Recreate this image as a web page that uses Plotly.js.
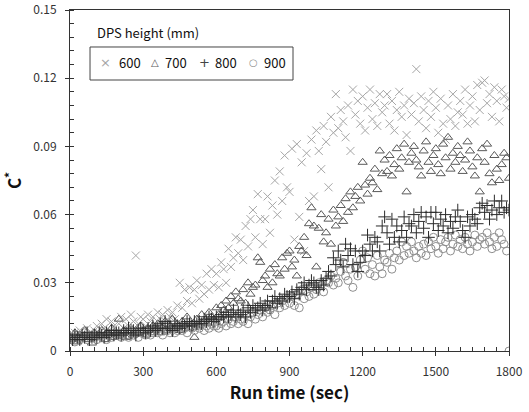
<!DOCTYPE html>
<html>
<head>
<meta charset="utf-8">
<script src="https://cdn.plot.ly/plotly-3.0.1.min.js"></script>
<style>html,body{margin:0;padding:0;background:#fff;}#chart{width:529px;height:412px;}</style>
</head>
<body>
<div id="chart"></div>
<script>
// Run time (sec)
var time = [
0,10,20,30,40,50,60,70,80,90,
100,110,120,130,140,150,160,170,180,190,
200,210,220,230,240,250,260,270,280,290,
300,310,320,330,340,350,360,370,380,390,
400,410,420,430,440,450,460,470,480,490,
500,510,520,530,540,550,560,570,580,590,
600,610,620,630,640,650,660,670,680,690,
700,710,720,730,740,750,760,770,780,790,
800,810,820,830,840,850,860,870,880,890,
900,910,920,930,940,950,960,970,980,990,
1000,1010,1020,1030,1040,1050,1060,1070,1080,1090,
1100,1110,1120,1130,1140,1150,1160,1170,1180,1190,
1200,1210,1220,1230,1240,1250,1260,1270,1280,1290,
1300,1310,1320,1330,1340,1350,1360,1370,1380,1390,
1400,1410,1420,1430,1440,1450,1460,1470,1480,1490,
1500,1510,1520,1530,1540,1550,1560,1570,1580,1590,
1600,1610,1620,1630,1640,1650,1660,1670,1680,1690,
1700,1710,1720,1730,1740,1750,1760,1770,1780,1790,
1800];

// C* for DPS height 600 mm
var c600 = [
.007,.006,.008,.005,.009,.007,.006,.010,.008,.007,
.009,.011,.008,.012,.010,.014,.009,.013,.011,.008,
.012,.015,.010,.014,.011,.016,.013,.042,.012,.015,
.014,.011,.016,.013,.015,.012,.017,.014,.016,.013,
.018,.015,.017,.014,.020,.030,.019,.027,.022,.028,
.021,.027,.031,.023,.029,.025,.034,.027,.036,.029,
.034,.028,.039,.036,.030,.045,.037,.041,.050,.043,
.049,.040,.055,.046,.058,.062,.050,.069,.058,.047,
.058,.068,.052,.064,.075,.060,.079,.066,.086,.072,
.070,.089,.049,.091,.059,.083,.044,.087,.066,.093,
.068,.097,.088,.080,.099,.092,.072,.103,.096,.113,
.098,.106,.101,.094,.108,.088,.115,.104,.110,.100,
.112,.097,.107,.115,.102,.109,.099,.113,.105,.108,
.113,.100,.110,.097,.106,.114,.103,.108,.095,.111,
.104,.109,.124,.101,.112,.106,.098,.110,.103,.114,
.107,.096,.111,.100,.093,.108,.102,.113,.099,.105,
.110,.104,.115,.100,.108,.112,.101,.117,.106,.118,
.119,.109,.113,.103,.116,.110,.101,.115,.112,.107,
.111];

// C* for DPS height 700 mm
var c700 = [
.006,.005,.008,.004,.007,.006,.009,.005,.007,.0035,
.008,.006,.007,.009,.005,.008,.007,.010,.006,.008,
.014,.007,.009,.006,.008,.010,.007,.009,.008,.011,
.009,.007,.010,.008,.011,.009,.012,.008,.010,.013,
.009,.011,.014,.010,.012,.009,.013,.011,.015,.010,
.012,.006,.014,.011,.016,.013,.012,.017,.015,.014,
.019,.016,.020,.018,.022,.019,.024,.021,.026,.023,
.022,.027,.021,.030,.025,.028,.029,.041,.039,.031,
.033,.028,.036,.030,.038,.034,.033,.041,.036,.043,
.044,.037,.040,.033,.046,.044,.050,.042,.056,.063,
.055,.037,.054,.060,.048,.052,.058,.047,.062,.055,
.059,.064,.057,.067,.061,.070,.063,.068,.072,.066,
.083,.073,.069,.076,.074,.080,.071,.088,.078,.084,
.079,.086,.077,.082,.089,.080,.085,.091,.070,.083,
.087,.090,.084,.081,.077,.088,.092,.083,.079,.086,
.089,.082,.078,.091,.085,.094,.080,.087,.083,.090,
.086,.079,.084,.092,.088,.081,.077,.085,.070,.089,
.083,.091,.078,.074,.086,.080,.075,.082,.087,.085,
.076];

// C* for DPS height 800 mm
var c800 = [
.006,.005,.007,.006,.005,.007,.006,.008,.005,.006,
.007,.006,.008,.007,.006,.008,.007,.009,.007,.008,
.008,.007,.009,.008,.010,.008,.009,.007,.009,.010,
.009,.008,.010,.009,.011,.009,.010,.012,.010,.013,
.010,.011,.009,.012,.011,.010,.012,.011,.013,.012,
.011,.013,.012,.013,.012,.014,.013,.015,.014,.013,
.015,.014,.016,.015,.017,.015,.016,.018,.015,.017,
.016,.018,.015,.019,.017,.020,.018,.019,.021,.018,
.020,.022,.019,.022,.024,.021,.023,.022,.025,.024,
.024,.026,.023,.027,.025,.028,.030,.027,.029,.031,
.030,.028,.027,.031,.029,.032,.035,.033,.041,.038,
.044,.040,.037,.047,.042,.045,.038,.044,.035,.039,
.044,.042,.051,.047,.044,.050,.048,.044,.055,.059,
.052,.047,.058,.050,.055,.048,.053,.059,.050,.056,
.055,.060,.052,.057,.061,.054,.059,.050,.061,.056,
.061,.053,.058,.055,.060,.052,.057,.054,.059,.062,
.057,.053,.050,.059,.055,.060,.058,.056,.063,.065,
.061,.064,.058,.062,.066,.060,.063,.066,.061,.063,
.062];

// C* for DPS height 900 mm
var c900 = [
.005,.006,.004,.007,.005,.006,.008,.005,.007,.006,
.006,.005,.007,.006,.008,.005,.007,.006,.008,.007,
.007,.006,.008,.007,.006,.009,.007,.008,.006,.008,
.008,.007,.009,.007,.008,.010,.008,.009,.007,.009,
.009,.008,.010,.008,.009,.011,.009,.010,.008,.011,
.010,.009,.011,.010,.012,.009,.011,.010,.012,.011,
.011,.010,.012,.013,.011,.014,.012,.013,.015,.012,
.014,.013,.016,.012,.015,.017,.014,.016,.018,.015,
.019,.017,.018,.020,.016,.021,.019,.022,.020,.023,
.021,.024,.020,.025,.019,.027,.023,.026,.024,.028,
.025,.027,.030,.029,.026,.031,.030,.033,.029,.032,
.030,.035,.039,.033,.031,.036,.028,.037,.033,.040,
.044,.036,.041,.034,.038,.033,.042,.037,.034,.040,
.039,.043,.036,.041,.044,.040,.048,.042,.046,.043,
.048,.044,.041,.046,.043,.047,.042,.048,.045,.050,
.046,.043,.049,.045,.048,.050,.044,.047,.051,.046,
.049,.045,.050,.047,.044,.048,.051,.046,.049,.050,
.047,.052,.048,.045,.050,.046,.052,.049,.047,.044,
0];

var seriesNames = ['600', '700', '800', '900'];
var legendTitle = 'DPS height (mm)';
var xTitle = 'Run time (sec)';
var yTitle = 'C<sup>*</sup>';

var FONT = '"Noto Sans CJK KR", "Noto Sans", sans-serif';
var AX = '#333';

function tr(y, name, symbol, color, size) {
  return {
    type: 'scatter', mode: 'markers', x: time, y: y, name: name,
    marker: {symbol: symbol, size: size, color: color, line: {color: color, width: 1}},
    showlegend: false, hoverinfo: 'x+y'
  };
}

var data = [
  tr(c600, seriesNames[0], 'x-thin-open', '#a6a6a6', 8),
  tr(c700, seriesNames[1], 'triangle-up-open', '#5a5a5a', 8),
  tr(c900, seriesNames[3], 'circle-open', '#8f8f8f', 8),
  tr(c800, seriesNames[2], 'cross-thin-open', '#2b2b2b', 9),
  {type: 'scatter', mode: 'markers', x: [0], y: [-1], xaxis: 'x2', yaxis: 'y2', showlegend: false, hoverinfo: 'skip', marker: {size: 1, color: 'rgba(0,0,0,0)'}}
];

// legend drawn as annotations
var legX = [0.082, 0.1936, 0.3075, 0.4169];
var legTx = [0.107, 0.2118, 0.3257, 0.4374];
var legSym = ['\u00d7', '\u25b3', '+', '\u25cb'];
var legCol = ['#a6a6a6', '#5a5a5a', '#444', '#8f8f8f'];
var legSz = [13, 10, 13, 10];
var legY = 0.8446;

var annotations = [{
  xref: 'paper', yref: 'paper', x: 0.0569, y: 0.9326, xanchor: 'left', yanchor: 'middle',
  text: legendTitle, showarrow: false, font: {family: FONT, size: 13, color: '#111'}
}];
for (var i = 0; i < 4; i++) {
  annotations.push({xref: 'paper', yref: 'paper', x: legX[i], y: legY, xanchor: 'center', yanchor: 'middle',
    text: legSym[i], showarrow: false, font: {family: '"DejaVu Sans", sans-serif', size: legSz[i], color: legCol[i]}});
  annotations.push({xref: 'paper', yref: 'paper', x: legTx[i], y: legY, xanchor: 'left', yanchor: 'middle',
    text: seriesNames[i], showarrow: false, font: {family: FONT, size: 13, color: '#111'}});
}

var layout = {
  width: 529, height: 412,
  margin: {l: 70, r: 20, t: 10, b: 61},
  paper_bgcolor: '#fff', plot_bgcolor: '#fff',
  font: {family: FONT, color: AX},
  showlegend: false,
  xaxis: {
    range: [0, 1800], tick0: 0, dtick: 300, ticks: 'outside', ticklen: 4, tickwidth: 1, tickcolor: AX,
    showline: true, linecolor: AX, linewidth: 1, mirror: true, showgrid: false, zeroline: false,
    tickfont: {family: FONT, size: 12, color: '#333'}, ticklabelstandoff: 6,
    minor: {dtick: 50, tick0: 0, ticks: 'inside', ticklen: 4, tickwidth: 1, tickcolor: AX, showgrid: false},
    title: {text: '<b>' + xTitle + '</b>', font: {family: FONT, size: 17, color: '#111'}, standoff: 8},
    fixedrange: true
  },
  yaxis: {
    range: [0, 0.15], tick0: 0, dtick: 0.03, ticks: 'outside', ticklen: 4, tickwidth: 1, tickcolor: AX,
    showline: true, linecolor: AX, linewidth: 1, mirror: true, showgrid: false, zeroline: false,
    tickfont: {family: FONT, size: 12, color: '#333'}, ticklabelstandoff: 6,
    minor: {dtick: 0.006, tick0: 0, ticks: 'inside', ticklen: 4, tickwidth: 1, tickcolor: AX, showgrid: false},
    title: {text: '<b>' + yTitle + '</b>', font: {family: FONT, size: 17, color: '#111'}, standoff: 14},
    fixedrange: true
  },
  xaxis2: {overlaying: 'x', anchor: 'y2', range: [0, 1800], tick0: 0, dtick: 300, ticks: 'inside', ticklen: 4,
    tickcolor: AX, showticklabels: false, showline: false, showgrid: false, zeroline: false, fixedrange: true},
  yaxis2: {overlaying: 'y', anchor: 'x2', range: [0, 0.15], tick0: 0, dtick: 0.03, ticks: 'inside', ticklen: 4,
    tickcolor: AX, showticklabels: false, showline: false, showgrid: false, zeroline: false, fixedrange: true},
  annotations: annotations,
  shapes: [{type: 'rect', xref: 'paper', yref: 'paper', x0: 0.0456, x1: 0.508, y0: 0.7947, y1: 0.8915,
    line: {color: '#444', width: 1}, fillcolor: 'rgba(0,0,0,0)'}]
};

Plotly.newPlot('chart', data, layout, {displayModeBar: false, staticPlot: true});
</script>
</body>
</html>
